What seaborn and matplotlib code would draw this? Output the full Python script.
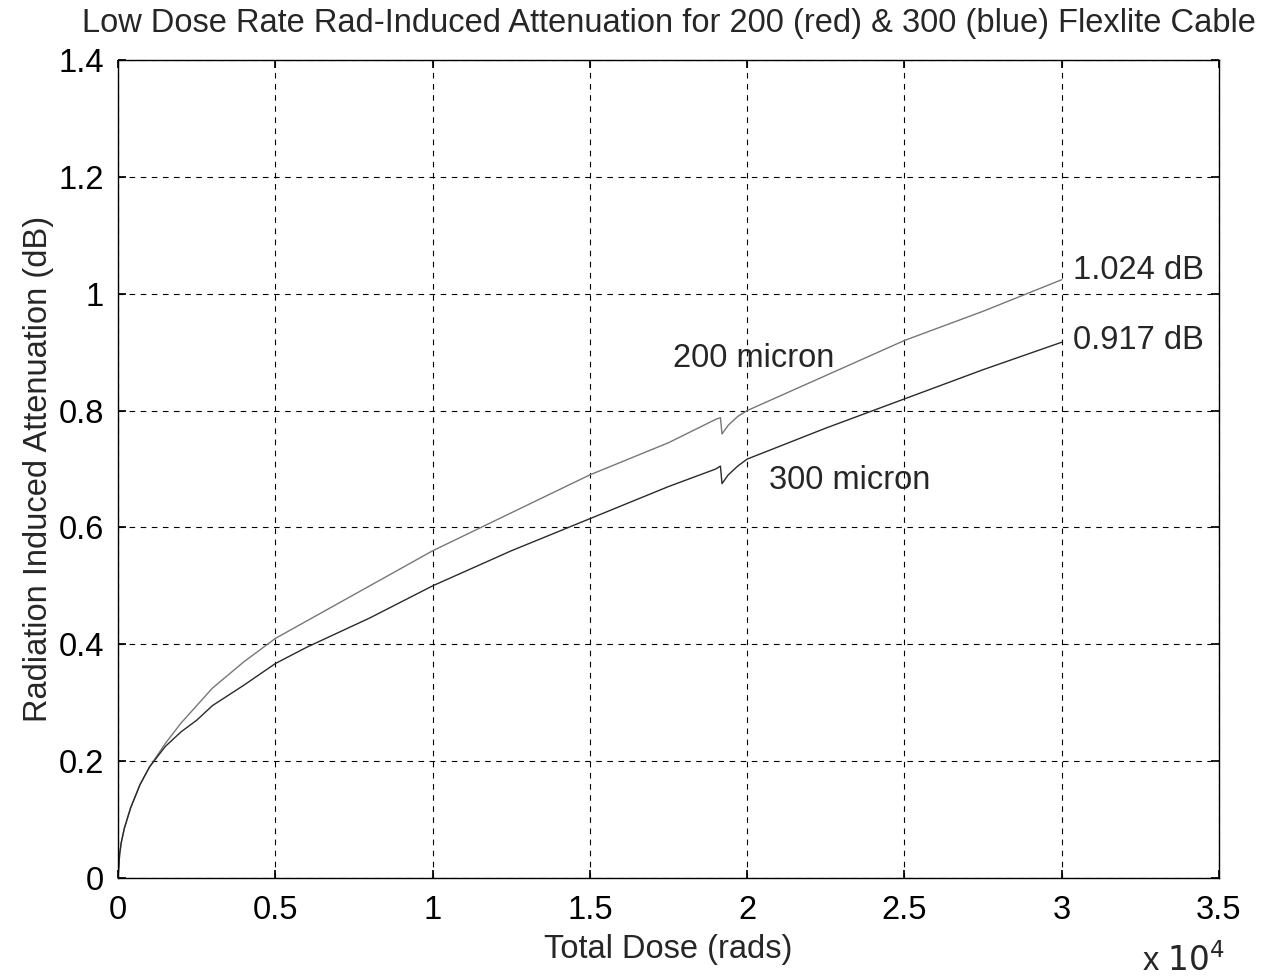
import matplotlib
matplotlib.use("Agg")
import matplotlib.pyplot as plt
from matplotlib.ticker import FuncFormatter
import numpy as np
import pandas as pd
import seaborn as sns

# total dose (rads)
dose = [0, 50, 100, 200, 400, 700, 1000, 1500, 2000, 2500, 3000, 4000, 5000,
        6000, 7000, 8000, 10000, 12500, 15000, 17500, 19000, 19150, 19200,
        19400, 19700, 20000, 22500, 25000, 27500, 30000]

# radiation induced attenuation (dB)
att_200 = [0, 0.04, 0.06, 0.085, 0.12, 0.16, 0.19, 0.23, 0.265, 0.295, 0.325,
           0.37, 0.41, 0.44, 0.47, 0.50, 0.56, 0.625, 0.69, 0.745, 0.785,
           0.788, 0.76, 0.775, 0.79, 0.80, 0.86, 0.92, 0.97, 1.024]
att_300 = [0, 0.04, 0.06, 0.085, 0.12, 0.16, 0.19, 0.225, 0.25, 0.27, 0.295,
           0.33, 0.367, 0.395, 0.42, 0.445, 0.50, 0.56, 0.615, 0.67, 0.70,
           0.705, 0.675, 0.69, 0.705, 0.717, 0.77, 0.82, 0.87, 0.917]

df = pd.DataFrame({
    "dose": dose * 2,
    "att": att_200 + att_300,
    "cable": ["200 micron"] * len(dose) + ["300 micron"] * len(dose),
})

sns.set_theme(style="white")
plt.rcParams["font.family"] = ["Liberation Sans", "DejaVu Sans"]

fs = 23.5
fig = plt.figure(figsize=(12.61, 9.76), dpi=100)
ax = fig.add_axes([0.0936, 0.1004, 0.8731, 0.8381])

sns.lineplot(data=df, x="dose", y="att", hue="cable",
             palette={"200 micron": "#777777", "300 micron": "#2a2a2a"},
             linewidth=1.0, legend=False, ax=ax)

ax.set_xlim(0, 35000)
ax.set_ylim(0, 1.4)
ax.set_xticks(np.arange(0, 35001, 5000))
ax.set_yticks(np.arange(0, 1.41, 0.2))
ax.xaxis.set_major_formatter(FuncFormatter(lambda v, p: f"{v / 1e4:g}"))
ax.yaxis.set_major_formatter(FuncFormatter(lambda v, p: f"{v:g}"))
ax.tick_params(direction="in", length=6, labelsize=fs, colors="black",
               top=True, right=True, bottom=True, left=True)
ax.tick_params(axis="x", pad=12)
ax.tick_params(axis="y", pad=10)
ax.grid(True, color="black", linestyle=(0, (5, 5)), linewidth=0.8)
for s in ax.spines.values():
    s.set_color("black")
    s.set_linewidth(1.0)

ax.set_xlabel("Total Dose (rads)", fontsize=fs, labelpad=6)
ax.set_ylabel("Radiation Induced Attenuation (dB)", fontsize=fs, labelpad=3)
ax.set_title("Low Dose Rate Rad-Induced Attenuation for 200 (red) & 300 (blue) Flexlite Cable",
             fontsize=fs, pad=20)

ax.text(17650, 0.89, "200 micron", fontsize=fs, va="center")
ax.text(20700, 0.68, "300 micron", fontsize=fs, va="center")
ax.text(30350, 1.04, "1.024 dB", fontsize=fs, va="center")
ax.text(30350, 0.92, "0.917 dB", fontsize=fs, va="center")
fig.text(0.906, 0.005, r"x $10^{4}$", fontsize=fs)

fig.savefig("out.png", dpi=100, facecolor="white")
